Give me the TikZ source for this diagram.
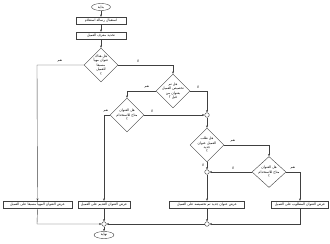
\documentclass[tikz,border=0pt]{standalone}
\usepackage{fontspec}
\usetikzlibrary{shapes.geometric,arrows.meta}
\TeXXeTstate=1
\newfontfamily\arabicfont[Script=Arabic]{DejaVu Sans}
\newcommand{\ar}[1]{\arabicfont\beginR #1\endR}
\begin{document}
\begin{tikzpicture}[x=1pt,y=-1pt,
  every node/.style={font=\arabicfont\fontsize{3.4}{4.4}\selectfont, inner sep=0pt},
  procbox/.style={draw=black!75, line width=0.4pt, fill=white, minimum height=7pt, anchor=center},
  term/.style={draw=black!75, ellipse, line width=0.4pt, minimum width=19pt, minimum height=7pt},
  dia/.style={draw=black!75, diamond, line width=0.4pt, minimum width=34pt, minimum height=34pt},
  dtext/.style={align=center},
  junc/.style={draw=black!75, circle, fill=white, line width=0.4pt, minimum size=4.6pt},
  lbl/.style={font=\arabicfont\fontsize{3.4}{4}\selectfont},
  flow/.style={draw=black!75, line width=0.4pt, -{Stealth[length=2.4pt,width=2pt]}},
  plain/.style={draw=black!75, line width=0.4pt}]
\useasboundingbox (0,0) rectangle (330,244);

\node[term] (start) at (101,7) {\ar{بداية}};
\node[procbox, minimum width=50pt] (b1) at (101,20.5) {\ar{استقبال رسالة استعلام}};
\node[procbox, minimum width=50pt] (b2) at (101,35.5) {\ar{تحديد معرف العميل}};

\node[dia] (d1) at (101,65) {};
\node[dtext] at (d1) {\beginR هل هناك\endR\\\beginR عنوان مهيأ\endR\\\beginR مسبقا\endR\\\beginR للعميل\endR\\\beginR ؟\endR};

\node[dia] (d2) at (173,91) {};
\node[dtext] at (d2) {\beginR هل تم\endR\\\beginR تخصيص العميل\endR\\\beginR بعنوان من\endR\\\beginR قبل ؟\endR};

\node[dia] (d3) at (127,115) {};
\node[dtext] at (d3) {\beginR هل العنوان\endR\\\beginR متاح للاستخدام\endR\\\beginR ؟\endR};

\node[junc] (c1) at (207,115) {};

\node[dia] (d4) at (207,145) {};
\node[dtext] at (d4) {\beginR هل طلب\endR\\\beginR العميل عنوان\endR\\\beginR جديد\endR\\\beginR ؟\endR};

\node[dia, minimum height=31pt] (d5) at (269,172) {};
\node[dtext] at (d5) {\beginR هل العنوان\endR\\\beginR متاح للاستخدام\endR\\\beginR ؟\endR};

\node[junc] (c2) at (207,172) {};

\node[procbox, minimum width=69pt] (bL) at (37.5,204.5) {\ar{عرض العنوان المهيأ مسبقا على العميل}};
\node[procbox, minimum width=52pt] (bM) at (104,204.5) {\ar{عرض العنوان القديم على العميل}};
\node[procbox, minimum width=75pt] (bN) at (207,204.5) {\ar{عرض عنوان جديد تم تخصيصه على العميل}};
\node[procbox, minimum width=57pt] (bR) at (300,204.5) {\ar{عرض العنوان المطلوب على العميل}};

\node[junc] (c3) at (207,224) {};
\node[junc] (cF) at (104,224) {};
\node[term, minimum width=20pt] (end) at (104,235) {\ar{نهاية}};

\coordinate (k1) at (37,65);
\coordinate (k2) at (173,65);
\coordinate (k3) at (127,91);
\coordinate (k4) at (207,91);
\coordinate (k5) at (104,115);
\coordinate (k6) at (269,145);
\coordinate (k7) at (300,172);
\coordinate (k8) at (300,224);
\coordinate (k9) at (37,224);

\draw[flow] (start) -- (b1);
\draw[flow] (b1) -- (b2);
\draw[flow] (b2) -- (d1);
\draw[flow] (d1.west) -- (k1) -- (bL.north);
\draw[flow] (d1.east) -- (k2) -- (d2.north);
\draw[flow] (d2.west) -- (k3) -- (d3.north);
\draw[flow] (d2.east) -- (k4) -- (c1.north);
\draw[flow] (d3.west) -- (k5) -- (bM.north);
\draw[flow] (d3.east) -- (c1.west);
\draw[flow] (c1) -- (d4.north);
\draw[flow] (d4.east) -- (k6) -- (d5.north);
\draw[flow] (d4.south) -- (c2.north);
\draw[flow] (d5.east) -- (k7) -- (bR.north);
\draw[flow] (d5.west) -- (c2.east);
\draw[flow] (c2) -- (bN.north);
\draw[flow] (bN.south) -- (c3.north);
\draw[flow] (bR.south) -- (k8) -- (c3.east);
\draw[flow] (c3.west) -- (cF.east);
\draw[flow] (bL.south) -- (k9) -- (cF.west);
\draw[flow] (bM.south) -- (cF.north);
\draw[flow] (cF) -- (end);

\node[lbl] at (60,61.5) {\ar{نعم}};
\node[lbl] at (138,61.5) {\ar{لا}};
\node[lbl] at (147,87.5) {\ar{نعم}};
\node[lbl] at (198,87.5) {\ar{لا}};
\node[lbl] at (106,111) {\ar{نعم}};
\node[lbl] at (152,111.5) {\ar{لا}};
\node[lbl] at (233,141.5) {\ar{نعم}};
\node[lbl] at (203,165.5) {\ar{لا}};
\node[lbl] at (293,168) {\ar{نعم}};
\node[lbl] at (233,168.5) {\ar{لا}};
\end{tikzpicture}
\end{document}
